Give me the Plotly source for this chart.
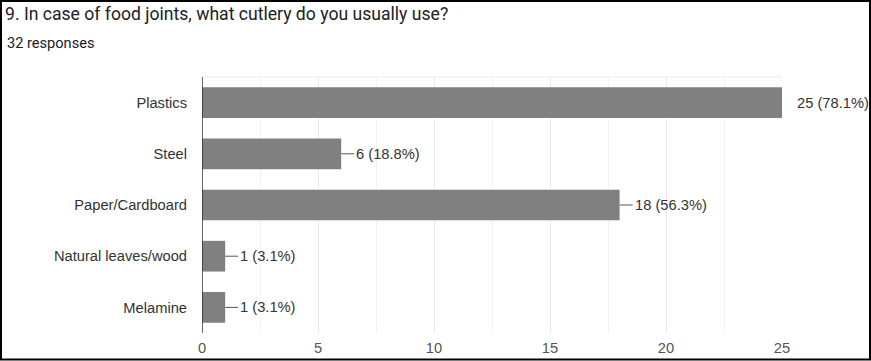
import plotly.graph_objects as go

categories = ["Plastics", "Steel", "Paper/Cardboard", "Natural leaves/wood", "Melamine"]
counts = [25, 6, 18, 1, 1]
percents = ["78.1%", "18.8%", "56.3%", "3.1%", "3.1%"]
tick_values = [0, 5, 10, 15, 20, 25]
title_text = "9. In case of food joints, what cutlery do you usually use?"
subtitle_text = "32 responses"

W, H = 871, 361
L, R, T, B = 202, 89, 77, 28
pw, ph = W - L - R, H - T - B
x_max = 25

def px_x(p):
    return (p - L) / pw

def px_y(p):
    return (H - B - p) / ph

label_font = dict(family="Liberation Sans, Arial", size=14.7, color="#333333")

fig = go.Figure()
fig.add_trace(go.Bar(
    x=counts, y=categories, orientation="h",
    marker=dict(color="#808080", line=dict(width=0)),
    hoverinfo="skip",
))

annotations = []
for c, v, p in zip(categories, counts, percents):
    annotations.append(dict(
        x=v, y=c, xref="x", yref="y",
        text=f"{v} ({p})", showarrow=True, arrowhead=0, arrowwidth=1,
        arrowcolor="rgba(0,0,0,0)" if v >= x_max else "#555555",
        ax=13, ay=0, axref="pixel", xanchor="left",
        font=label_font,
    ))
annotations.append(dict(
    x=px_x(3), y=px_y(14), xref="paper", yref="paper", text=title_text,
    showarrow=False, xanchor="left", yanchor="middle",
    font=dict(family="Roboto", size=17.6, color="#202124"),
))
annotations.append(dict(
    x=px_x(5), y=px_y(43), xref="paper", yref="paper", text=subtitle_text,
    showarrow=False, xanchor="left", yanchor="middle",
    font=dict(family="Roboto", size=14.6, color="#202124"),
))

fig.update_layout(
    width=W, height=H,
    margin=dict(l=L, r=R, t=T, b=B, pad=0, autoexpand=False),
    paper_bgcolor="white", plot_bgcolor="white",
    showlegend=False, bargap=0.4,
    annotations=annotations,
    shapes=[dict(type="rect", xref="paper", yref="paper",
                 x0=px_x(1), x1=px_x(870), y0=px_y(1), y1=px_y(359.5),
                 line=dict(color="black", width=2), fillcolor="rgba(0,0,0,0)")],
    xaxis=dict(range=[0, x_max], tickvals=tick_values, showgrid=True,
               gridcolor="#ebebeb", gridwidth=1,
               minor=dict(dtick=2.5, showgrid=True, gridcolor="#f2f2f2"),
               zeroline=False, showline=False, ticks="", automargin=False,
               tickfont=dict(family="Liberation Sans, Arial", size=14.7, color="#555555"),
               ticklabelstandoff=4, fixedrange=True),
    yaxis=dict(autorange="reversed", showgrid=False, zeroline=False,
               showline=False, ticks="", automargin=False,
               tickfont=label_font,
               ticklabelstandoff=14, fixedrange=True),
)
# dark baseline at zero
fig.add_shape(type="line", xref="x", yref="paper", x0=0, x1=0, y0=0, y1=1,
              line=dict(color="#333333", width=1.5))
# top border of the grid
fig.add_shape(type="line", xref="x", yref="paper", x0=0, x1=x_max, y0=1, y1=1,
              line=dict(color="#ebebeb", width=1), layer="below")

fig.write_html("out.html")
